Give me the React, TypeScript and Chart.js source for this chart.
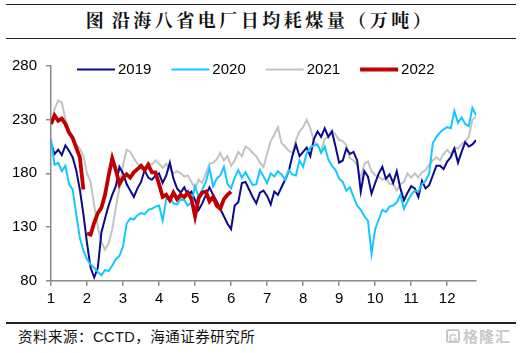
import React, { useEffect, useRef } from "react";
import { Chart, registerables } from "chart.js";

Chart.register(...registerables);

// ---- data (month as fractional x, sampled every STEP month) ----
const STEP = 0.1;
const MONTH_TICKS = [1, 2, 3, 4, 5, 6, 7, 8, 9, 10, 11, 12];
const Y_TICKS = [80, 130, 180, 230, 280];
const SERIES_NAMES = ["2019", "2020", "2021", "2022"];

const START_2019 = 1.0;
const Y2019 = [
  208, 198, 202, 197, 206, 201, 195, 183, 165, 142,
  115, 92, 83, 92, 125, 138, 150, 160, 168, 186,
  180, 170, 164, 158, 166, 172, 183, 176, 174, 178,
  180, 171, 178, 190, 175, 166, 162, 167, 160, 163,
  155, 146, 152, 160, 167, 160, 154, 147, 140, 133,
  128, 150, 153, 171, 172, 165, 158, 152, 162, 164,
  159, 151, 163, 160, 167, 174, 182, 196, 207, 196,
  200, 204, 196, 212, 219, 214, 222, 214, 219, 205,
  190, 192, 203, 198, 200, 192, 163, 182, 177, 161,
  171, 180, 186, 175, 179, 171, 182, 166, 155, 162,
  168, 166, 158, 173, 166, 169, 178, 187, 187, 184,
  191, 195, 203, 190, 200, 209, 205, 207, 211,
];

const START_2020 = 1.0;
const Y2020 = [
  212, 188, 190, 182, 187, 170, 165, 142, 120, 108,
  100, 95, 92, 88, 85, 90, 89, 94, 100, 103,
  112, 133, 138, 137, 141, 143, 142, 146, 147, 149,
  150, 136, 156, 158, 152, 151, 156, 155, 150, 153,
  168, 158, 165, 172, 185, 168, 175, 178, 186, 170,
  166, 176, 183, 176, 181, 175, 169, 170, 183, 177,
  171, 180, 177, 182, 179, 174, 183, 179, 178, 192,
  186, 199, 204, 206, 207, 199, 205, 193, 187, 183,
  175, 172, 164, 167, 158, 150, 146, 140, 136, 105,
  128, 137, 146, 144, 149, 150, 153, 160, 147, 154,
  160, 164, 163, 170, 173, 180, 208, 214, 218, 221,
  223, 222, 238, 227, 232, 226, 224, 241, 234,
];

const START_2021 = 1.0;
const Y2021 = [
  226, 240, 248, 246, 230, 220, 214, 207, 203, 196,
  180, 172, 150, 130, 116, 109, 115, 128, 148, 167,
  188, 202, 200, 194, 189, 186, 185, 190, 188, 192,
  189, 185, 189, 184, 180, 182, 180, 177, 178, 172,
  166, 174, 171, 180, 189, 190, 193, 199, 192, 196,
  187, 192, 200, 196, 205, 203, 199, 196, 190, 186,
  198, 210, 216, 223, 208, 205, 201, 199, 211, 219,
  223, 230, 222, 210, 206, 201, 212, 214, 220, 216,
  211, 210, 206, 194, 192, 188, 175, 189, 191, 182,
  178, 177, 174, 176, 170, 170, 164, 170, 172, 180,
  176, 180, 176, 181, 183, 188, 192, 195, 192, 198,
  202, 198, 204, 203, 207, 210, 214, 230, 233,
];

// 2022 has a break just before February
const START_2022_A = 1.0;
const Y2022_A = [226, 234, 229, 231, 226, 218, 213, 204, 195, 165];
const START_2022_B = 2.0;
const Y2022_B = [
  124, 123, 134, 143, 148, 160, 178, 194, 183, 170,
  176, 179, 176, 181, 184, 187, 183, 188, 181, 181,
  170, 158, 160, 155, 162, 156, 160, 158, 162, 156,
  140, 157, 162, 163, 154, 158, 150, 147, 156, 160,
  163,
];

const COLORS = ["#0A0A8A", "#14C8FF", "#C3C3C3", "#C00000"];
const WIDTHS = [2, 2, 2, 3.8];
const AXIS_COLOR = "#8A8A8A";
const FONT_LATIN = '"Liberation Sans", Arial, sans-serif';

function toPoints(values: number[], start: number) {
  return values.map((v, i) => ({ x: Math.round((start + i * STEP) * 100) / 100, y: v }));
}

const legendPlugin = {
  id: "inlineLegend",
  afterDraw(chart: any) {
    const { ctx, chartArea } = chart;
    ctx.save();
    ctx.font = "15px " + FONT_LATIN;
    ctx.textBaseline = "middle";
    ctx.textAlign = "left";
    let x = chartArea.left + 26;
    const y = chartArea.top + 3.5;
    SERIES_NAMES.forEach((name, i) => {
      ctx.strokeStyle = COLORS[i];
      ctx.lineWidth = WIDTHS[i];
      ctx.beginPath();
      ctx.moveTo(x, y);
      ctx.lineTo(x + 38, y);
      ctx.stroke();
      ctx.fillStyle = "#000";
      ctx.fillText(name, x + 41, y + 0.5);
      x += 38 + 4 + ctx.measureText(name).width + 19;
    });
    ctx.restore();
  },
};

function ChartBox() {
  const ref = useRef<HTMLCanvasElement | null>(null);
  useEffect(() => {
    if (!ref.current) return;
    const common = { pointRadius: 0, pointHoverRadius: 0, tension: 0, fill: false, spanGaps: false };
    const chart = new Chart(ref.current, {
      type: "line",
      data: {
        datasets: [
          { ...common, label: SERIES_NAMES[0], data: toPoints(Y2019, START_2019), borderColor: COLORS[0], borderWidth: WIDTHS[0], order: 3 },
          { ...common, label: SERIES_NAMES[1], data: toPoints(Y2020, START_2020), borderColor: COLORS[1], borderWidth: WIDTHS[1], order: 2 },
          { ...common, label: SERIES_NAMES[2], data: toPoints(Y2021, START_2021), borderColor: COLORS[2], borderWidth: WIDTHS[2], order: 4 },
          { ...common, label: SERIES_NAMES[3], data: toPoints(Y2022_A, START_2022_A), borderColor: COLORS[3], borderWidth: WIDTHS[3], order: 0 },
          { ...common, label: SERIES_NAMES[3] + "b", data: toPoints(Y2022_B, START_2022_B), borderColor: COLORS[3], borderWidth: WIDTHS[3], order: 0 },
        ] as any,
      },
      options: {
        responsive: false,
        animation: false,
        parsing: true,
        layout: { padding: { left: 0, top: 26, right: 44, bottom: 9.3 } },
        plugins: { legend: { display: false }, tooltip: { enabled: false } },
        scales: {
          x: {
            type: "linear",
            min: 1,
            max: 12.8,
            afterBuildTicks: (s: any) => {
              s.ticks = MONTH_TICKS.map((v) => ({ value: v }));
            },
            afterFit: (s: any) => {
              s.height = 30;
            },
            grid: { drawOnChartArea: false, drawTicks: true, tickLength: 5, color: AXIS_COLOR, lineWidth: 1.5 },
            border: { display: true, color: AXIS_COLOR, width: 1.5 },
            ticks: { color: "#000", font: { family: FONT_LATIN, size: 15 }, padding: 4, maxRotation: 0, autoSkip: false },
          },
          y: {
            type: "linear",
            min: 80,
            max: 280,
            afterBuildTicks: (s: any) => {
              s.ticks = Y_TICKS.map((v) => ({ value: v }));
            },
            afterFit: (s: any) => {
              s.width = 51;
            },
            grid: { drawOnChartArea: false, drawTicks: true, tickLength: 5, color: AXIS_COLOR, lineWidth: 1.5 },
            border: { display: true, color: AXIS_COLOR, width: 1.5 },
            ticks: { color: "#000", font: { family: FONT_LATIN, size: 15 }, padding: 9 },
          },
        },
      },
      plugins: [legendPlugin],
    } as any);
    return () => chart.destroy();
  }, []);
  return (
    <canvas
      ref={ref}
      width={520}
      height={280}
      style={{ position: "absolute", left: 0, top: 40, width: 520, height: 280 }}
    />
  );
}

export default function App() {
  const cjk = '"Noto Sans CJK SC", "Noto Sans", sans-serif';
  return (
    <div style={{ position: "fixed", left: 0, top: 0, width: 520, height: 353, background: "#fff", overflow: "hidden" }}>
      <div style={{ position: "absolute", left: 6, top: 3.5, width: 510, height: 1.5, background: "#222" }} />
      <div
        style={{
          position: "absolute",
          left: 0,
          top: 8,
          width: 520,
          textAlign: "center",
          fontFamily: '"Noto Serif CJK SC", ' + cjk,
          fontWeight: 700,
          fontSize: 18,
          lineHeight: "22px",
          color: "#111",
          whiteSpace: "pre",
        }}
      >
        <span>图</span>
        <span style={{ display: "inline-block", width: 8 }} />
        <span style={{ letterSpacing: 3.5 }}>沿海八省电厂日均耗煤量（万吨）</span>
      </div>
      <div style={{ position: "absolute", left: 6, top: 37.5, width: 510, height: 1.5, background: "#222" }} />
      <ChartBox />
      <div style={{ position: "absolute", left: 6, top: 322, width: 510, height: 1.5, background: "#222" }} />
      <div
        style={{
          position: "absolute",
          left: 18,
          top: 326,
          fontFamily: cjk,
          fontSize: 14.5,
          lineHeight: "20px",
          color: "#111",
          letterSpacing: 0.5,
          whiteSpace: "pre",
        }}
      >
        资料来源：<span style={{ fontFamily: FONT_LATIN, letterSpacing: 0.5 }}>CCTD</span>，海通证券研究所
      </div>
      <div
        style={{
          position: "absolute",
          left: 446,
          top: 327,
          display: "flex",
          alignItems: "center",
          color: "#C8C8C8",
          fontFamily: cjk,
          fontSize: 15,
          lineHeight: "18px",
          fontWeight: 700,
        }}
      >
        <span
          style={{
            display: "inline-block",
            width: 14,
            height: 14,
            border: "2px solid #C8C8C8",
            borderRadius: 3,
            fontSize: 11,
            lineHeight: "14px",
            textAlign: "center",
            fontFamily: FONT_LATIN,
            marginRight: 3,
            boxSizing: "border-box",
          }}
        >
          G
        </span>
        <span style={{ letterSpacing: 1 }}>格隆汇</span>
      </div>
    </div>
  );
}
